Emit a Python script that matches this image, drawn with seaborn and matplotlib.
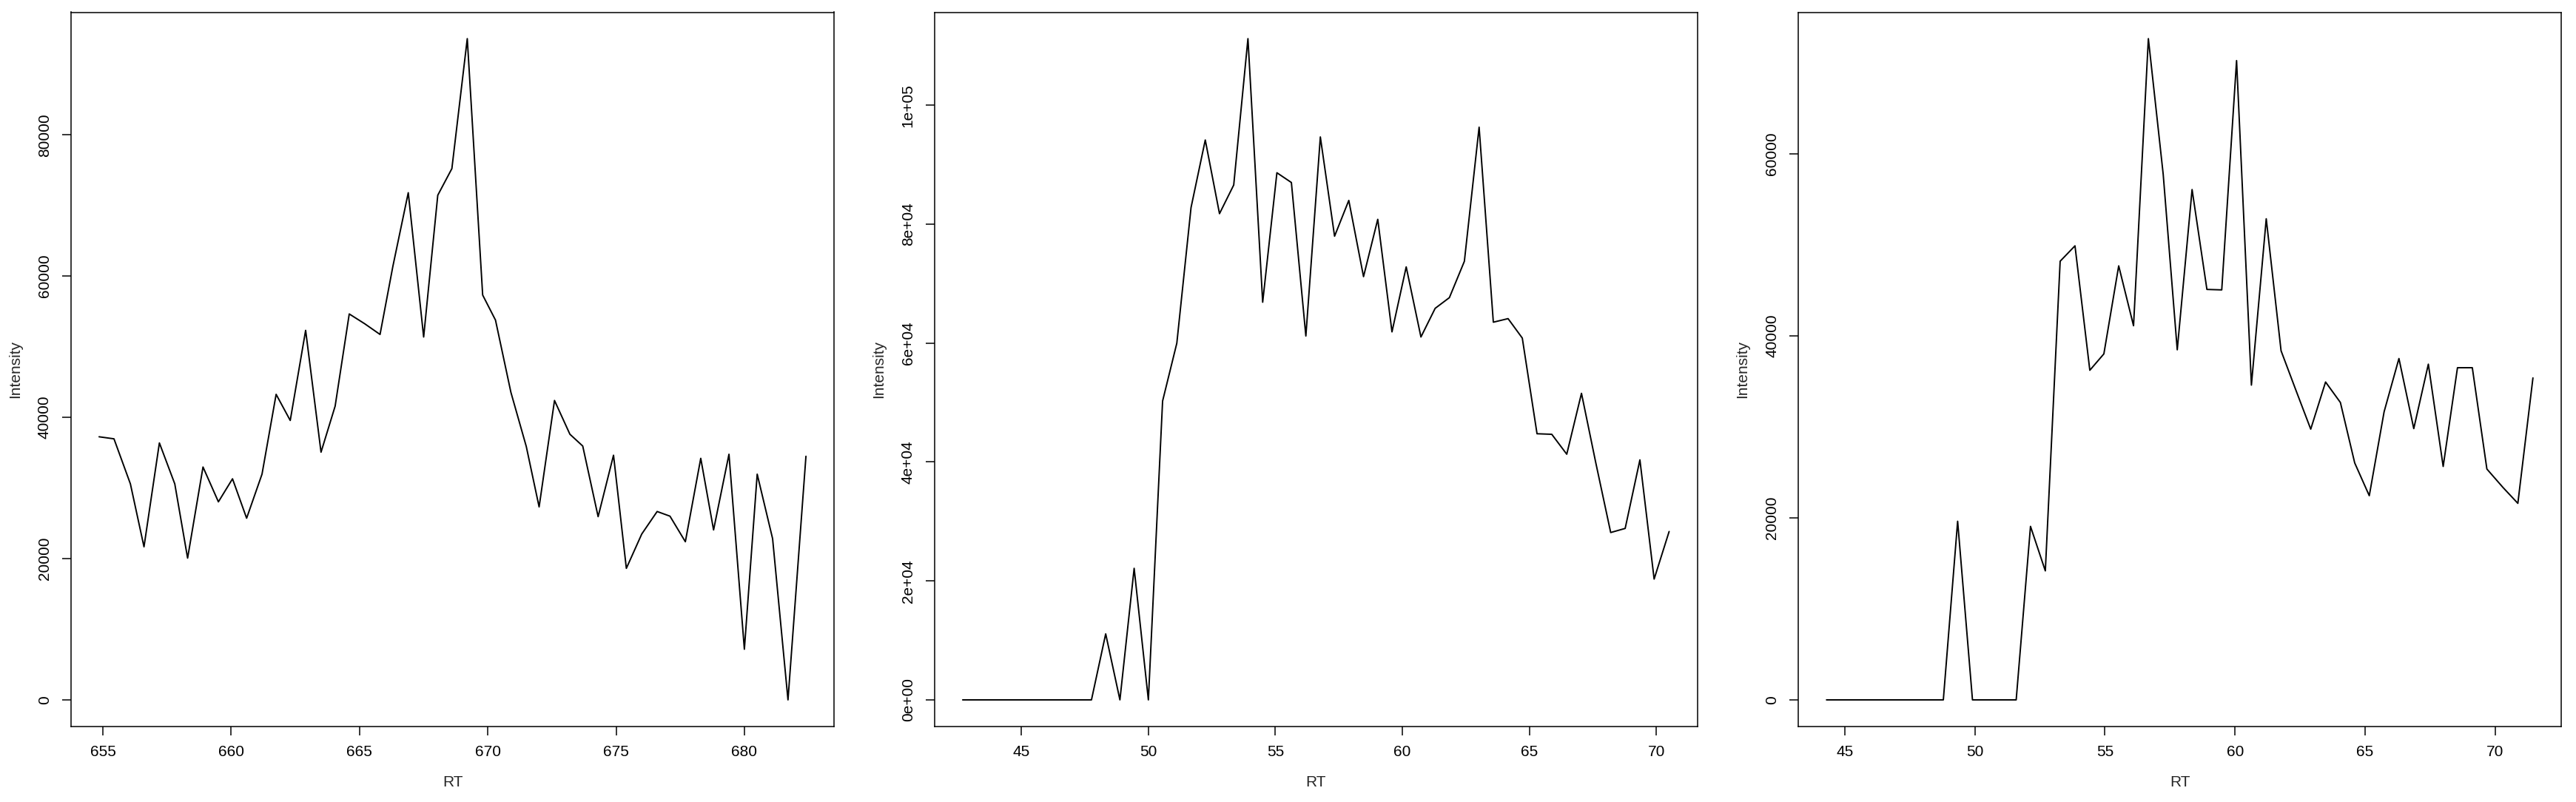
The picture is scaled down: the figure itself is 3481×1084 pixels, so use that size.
import numpy as np
import seaborn as sns
import matplotlib
matplotlib.use("Agg")
import matplotlib.pyplot as plt

# panel 1
rt1 = [654.85, 655.43, 656.07, 656.6, 657.2, 657.8, 658.3, 658.9, 659.5, 660.05,
       660.6, 661.2, 661.75, 662.3, 662.9, 663.5, 664.05, 664.6, 665.2, 665.8,
       666.3, 666.9, 667.5, 668.05, 668.6, 669.2, 669.8, 670.3, 670.9, 671.5,
       672.0, 672.6, 673.2, 673.7, 674.3, 674.9, 675.4, 676.0, 676.6, 677.1,
       677.7, 678.3, 678.8, 679.4, 680.0, 680.5, 681.1, 681.7, 682.4]
int1 = [37250, 36960, 30580, 21670, 36380, 30580, 20070, 32970, 28040, 31300,
        25720, 31960, 43260, 39560, 52320, 35070, 41590, 54640, 53260, 51740,
        61380, 71810, 51380, 71450, 75220, 93620, 57320, 53770, 43550, 35870,
        27320, 42390, 37610, 35940, 25940, 34640, 18620, 23480, 26670, 26010,
        22390, 34200, 24060, 34780, 7170, 31960, 22830, 0, 34490]
xticks1 = [655, 660, 665, 670, 675, 680]
yticks1 = [0, 20000, 40000, 60000, 80000]
ylabels1 = ["0", "20000", "40000", "60000", "80000"]

# panel 2
rt2 = [42.69, 43.25, 43.82, 44.38, 44.94, 45.51, 46.07, 46.64, 47.2, 47.76,
       48.32, 48.88, 49.44, 50.0, 50.56, 51.12, 51.68, 52.24, 52.8, 53.36,
       53.92, 54.5, 55.06, 55.63, 56.2, 56.77, 57.33, 57.89, 58.47, 59.03,
       59.59, 60.15, 60.73, 61.29, 61.85, 62.44, 63.02, 63.58, 64.16, 64.72,
       65.3, 65.88, 66.47, 67.05, 67.61, 68.2, 68.77, 69.35, 69.91, 70.5]
int2 = [0, 0, 0, 0, 0, 0, 0, 0, 0, 0,
        11100, 0, 22120, 0, 50250, 59980, 82790, 94150, 81760, 86580,
        111190, 66870, 88640, 87000, 61190, 94660, 77970, 83990, 71170, 80810,
        61880, 72810, 61020, 65840, 67640, 73750, 96300, 63510, 64110, 60840,
        44750, 44660, 41310, 51550, 39930, 28140, 28830, 40360, 20310, 28310]
xticks2 = [45, 50, 55, 60, 65, 70]
yticks2 = [0, 20000, 40000, 60000, 80000, 100000]
ylabels2 = ["0e+00", "2e+04", "4e+04", "6e+04", "8e+04", "1e+05"]

# panel 3
rt3 = [44.3, 44.86, 45.42, 45.99, 46.55, 47.11, 47.67, 48.23, 48.79, 49.34,
       49.91, 50.47, 51.03, 51.59, 52.14, 52.71, 53.28, 53.85, 54.42, 54.96,
       55.53, 56.1, 56.67, 57.24, 57.78, 58.35, 58.92, 59.49, 60.06, 60.63,
       61.2, 61.77, 62.34, 62.91, 63.48, 64.05, 64.6, 65.16, 65.73, 66.3,
       66.87, 67.43, 68.0, 68.55, 69.12, 69.68, 70.3, 70.87, 71.45]
int3 = [0, 0, 0, 0, 0, 0, 0, 0, 0, 19620,
        0, 0, 0, 0, 19060, 14170, 48190, 49880, 36210, 38010,
        47680, 41100, 72640, 57740, 38460, 56060, 45090, 45040, 70230, 34580,
        52850, 38350, 34020, 29740, 34920, 32670, 26030, 22430, 31650, 37500,
        29800, 36880, 25640, 36490, 36490, 25360, 23330, 21590, 35370]
xticks3 = [45, 50, 55, 60, 65, 70]
yticks3 = [0, 20000, 40000, 60000]
ylabels3 = ["0", "20000", "40000", "60000"]

sns.set_style("ticks")
plt.rcParams["font.family"] = ["Liberation Sans", "DejaVu Sans"]

W, H = 3481, 1084
fig = plt.figure(figsize=(W / 100, H / 100), dpi=100)

lefts = [95.7, 1262.7, 2430.0]
widths = [1031.6, 1031.0, 1031.0]
top, bottom = 16.5, 981.7

panels = [
    (rt1, int1, xticks1, yticks1, ylabels1),
    (rt2, int2, xticks2, yticks2, ylabels2),
    (rt3, int3, xticks3, yticks3, ylabels3),
]

for (rt, inten, xt, yt, yl), left, width in zip(panels, lefts, widths):
    ax = fig.add_axes([left / W, 1 - bottom / H, width / W, (bottom - top) / H])
    sns.lineplot(x=rt, y=inten, ax=ax, color="black", linewidth=1.4,
                 estimator=None, sort=False)

    # R style 4% axis padding
    xr = max(rt) - min(rt)
    yr = max(inten) - min(inten)
    ax.set_xlim(min(rt) - 0.04 * xr, max(rt) + 0.04 * xr)
    ax.set_ylim(min(inten) - 0.04 * yr, max(inten) + 0.04 * yr)

    ax.set_xticks(xt)
    ax.set_xticklabels([str(v) for v in xt])
    ax.set_yticks(yt)
    ax.set_yticklabels(yl, rotation=90, va="center")

    for sp in ax.spines.values():
        sp.set_visible(True)
        sp.set_linewidth(1.1)
        sp.set_color("black")
    ax.tick_params(axis="both", direction="out", length=8.6, width=1.1,
                   labelsize=15, colors="black")
    ax.tick_params(axis="x", pad=9.4)
    ax.tick_params(axis="y", pad=10)

    ax.set_xlabel("RT", fontsize=15)
    ax.set_ylabel("Intensity", fontsize=15)
    ax.xaxis.label.set_va("center")
    ax.yaxis.label.set_va("center")
    ax.xaxis.set_label_coords(0.5, -76 / (bottom - top))
    ax.yaxis.set_label_coords(-75 / width, 0.5)

fig.savefig("out.png", dpi=100, facecolor="white")
